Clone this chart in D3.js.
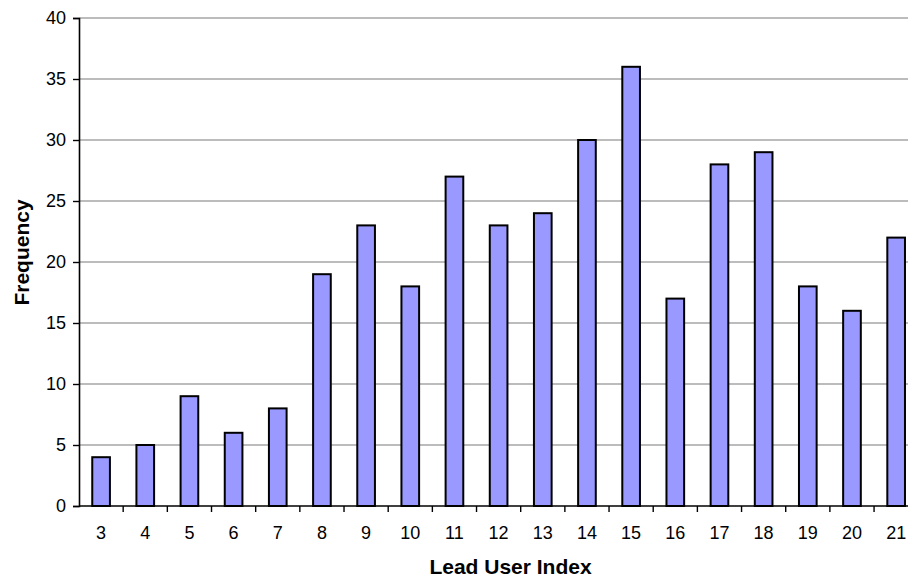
<!DOCTYPE html>
<html><head><meta charset="utf-8">
<script src="https://cdn.jsdelivr.net/npm/d3@7"></script>
<style>body{margin:0;overflow:hidden;background:#fff}svg{display:block}</style>
</head><body>
<script>
const categories = [3,4,5,6,7,8,9,10,11,12,13,14,15,16,17,18,19,20,21];
const frequencies = [4,5,9,6,8,19,23,18,27,23,24,30,36,17,28,29,18,16,22];
const yTicks = [0,5,10,15,20,25,30,35,40];

(function(){
const W = 908, H = 579;
const mLeft = 79, mTop = 18, mBottom = 506, plotRight = 79 + 19*44.17;
const svg = d3.select("body").append("svg").attr("width", W).attr("height", H);

const x = d3.scaleBand().domain(categories).range([mLeft, plotRight]).paddingInner(0).paddingOuter(0);
const y = d3.scaleLinear().domain([0,40]).range([mBottom, mTop]);
const font = "Arial, 'Liberation Sans', sans-serif";

// gridlines
svg.append("g").selectAll("line").data(yTicks.filter(d=>d>0)).join("line")
  .attr("x1", mLeft).attr("x2", plotRight)
  .attr("y1", d=>y(d)).attr("y2", d=>y(d))
  .attr("stroke", "#7a7a7a").attr("stroke-width", 1.2);

// bars
const bw = x.bandwidth()/2.5;
svg.append("g").selectAll("rect").data(categories).join("rect")
  .attr("x", (d)=>x(d) + (x.bandwidth()-bw)/2)
  .attr("y", (d,i)=>y(frequencies[i]))
  .attr("width", bw)
  .attr("height", (d,i)=>mBottom - y(frequencies[i]))
  .attr("fill", "#9999ff").attr("stroke", "#000").attr("stroke-width", 2);

// y axis
const yAxis = d3.axisLeft(y).tickValues(yTicks).tickSize(6).tickPadding(7);
const gy = svg.append("g").attr("transform", `translate(${mLeft},0)`).call(yAxis);
gy.select(".domain").attr("stroke", "#000").attr("stroke-width", 1.6);
gy.selectAll(".tick line").attr("stroke", "#000").attr("stroke-width", 1.4);
gy.selectAll("text").attr("font-family", font).attr("font-size", 18).attr("fill", "#000");

// x axis
const gx = svg.append("g").attr("transform", `translate(0,${mBottom})`);
gx.append("line").attr("x1", mLeft).attr("x2", plotRight).attr("stroke", "#000").attr("stroke-width", 1.6);
gx.selectAll("line.tk").data(categories.slice(1)).join("line").attr("class","tk")
  .attr("x1", d=>x(d)).attr("x2", d=>x(d)).attr("y1", 0).attr("y2", 6)
  .attr("stroke", "#000").attr("stroke-width", 1.4);
gx.selectAll("text").data(categories).join("text")
  .attr("x", d=>x(d)+x.bandwidth()/2).attr("y", 33)
  .attr("text-anchor", "middle").attr("font-family", font).attr("font-size", 18)
  .text(d=>d);

// axis titles
svg.append("text").attr("x", 510.5).attr("y", 574).attr("text-anchor","middle")
  .attr("font-family", font).attr("font-size", 21).attr("font-weight","bold").text("Lead User Index");
svg.append("text").attr("transform", "translate(29,252.5) rotate(-90)").attr("text-anchor","middle")
  .attr("font-family", font).attr("font-size", 21).attr("font-weight","bold").text("Frequency");
})();
</script>
</body></html>
